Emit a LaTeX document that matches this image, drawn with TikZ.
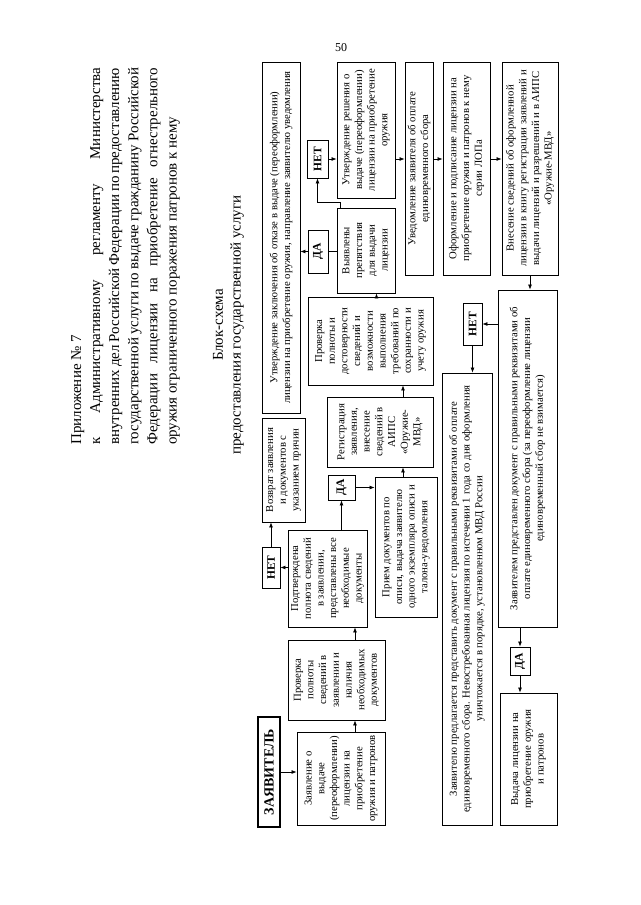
\documentclass[tikz,border=0pt]{standalone}
\usepackage{fontspec}
\setmainfont{Liberation Serif}
\usetikzlibrary{arrows.meta,calc}
\begin{document}
\begin{tikzpicture}[x=1pt,y=-1pt,
  box/.style={draw, line width=0.9pt, rotate=90, align=center, inner sep=1pt,
    font=\fontsize{10.7}{12.7}\selectfont},
  yn/.style={draw, line width=0.9pt, rotate=90, inner sep=1pt,
    font=\fontsize{11.5}{13}\selectfont\bfseries},
  zbox/.style={draw, line width=1.4pt, rotate=90, inner sep=1pt,
    font=\fontsize{14}{16}\selectfont\bfseries},
  arr/.style={line width=0.7pt, -{Latex[length=5pt,width=4pt]}},
  ln/.style={line width=0.7pt},
  ttl/.style={rotate=90, align=left, inner sep=0pt, font=\fontsize{15}{18.5}\selectfont},
  head/.style={rotate=90, inner sep=0pt, font=\fontsize{15}{18}\selectfont}
]
\useasboundingbox (0,0) rectangle (640,905);
\fill[white] (0,0) rectangle (640,905);

% page number
\node[font=\fontsize{12}{14}\selectfont, inner sep=0pt] (pnum) at (341,48) {50};

% title
\node[ttl, anchor=north west] (title) at (71,445) {%
Приложение № 7\\[0.6pt]
\makebox[377pt][s]{к Административному регламенту Министерства}\\[0.6pt]
\makebox[377pt][s]{внутренних дел Российской Федерации по предоставлению}\\[0.6pt]
\makebox[377pt][s]{государственной услуги по выдаче гражданину Российской}\\[0.6pt]
\makebox[377pt][s]{Федерации лицензии на приобретение огнестрельного}\\[0.6pt]
оружия ограниченного поражения патронов к нему};

\node[head] (h1) at (218,325) {Блок-схема};
\node[head] (h2) at (237,325) {предоставления государственной услуги};

% boxes
\node[zbox, minimum width=110pt, minimum height=22pt] (zv) at (269,772) {ЗАЯВИТЕЛЬ};
\node[box, minimum width=93pt, minimum height=88pt] (zayav) at (341,778.5)
  {Заявление о\\выдаче\\(переоформлении)\\лицензии на\\приобретение\\оружия и патронов};
\node[box, minimum width=80pt, minimum height=97pt] (prov1) at (336.5,680)
  {Проверка\\полноты\\сведений в\\заявлении и\\наличия\\необходимых\\документов};
\node[box, minimum width=97pt, minimum height=79pt] (podtv) at (327.5,578.5)
  {Подтверждена\\полнота сведений\\в заявлении,\\представлены все\\необходимые\\документы};
\node[yn, minimum width=41pt, minimum height=18pt] (net1) at (271,567.5) {НЕТ};
\node[box, minimum width=104pt, minimum height=43pt] (vozvr) at (283.5,470)
  {Возврат заявления\\и документов с\\указанием причин};
\node[yn, minimum width=25pt, minimum height=27pt] (da1) at (341.5,487.5) {ДА};
\node[box, minimum width=140pt, minimum height=62pt] (priem) at (406,547)
  {Прием документов по\\описи, выдача заявителю\\одного экземпляра описи и\\талона-уведомления};
\node[box, minimum width=70pt, minimum height=106pt] (regis) at (380,432)
  {Регистрация\\заявления,\\внесение\\сведений в\\АИПС\\«Оружие-\\МВД»};
\node[box, minimum width=88pt, minimum height=125pt] (prov2) at (370.5,341)
  {Проверка\\полноты и\\достоверности\\сведений и\\возможности\\выполнения\\требований по\\сохранности и\\учету оружия};
\node[box, minimum width=85pt, minimum height=58pt] (vyyav) at (366,250.5)
  {Выявлены\\препятствия\\для выдачи\\лицензии};
\node[yn, minimum width=43pt, minimum height=20pt] (da2) at (318,251.5) {ДА};
\node[box, minimum width=351pt, minimum height=38pt] (otk) at (281,237.5)
  {Утверждение заключения об отказе в выдаче (переоформлении)\\лицензии на приобретение оружия, направление заявителю уведомления};
\node[yn, minimum width=38pt, minimum height=21pt] (net2) at (317.5,159) {НЕТ};
\node[box, minimum width=136pt, minimum height=58pt] (resh) at (366,130)
  {Утверждение решения о\\выдаче (переоформлении)\\лицензии на приобретение\\оружия};
\node[box, minimum width=213pt, minimum height=28pt] (uved) at (419,168.5)
  {Уведомление заявителя об оплате\\единовременного сбора};
\node[box, minimum width=213pt, minimum height=47pt] (oform) at (466.5,168.5)
  {Оформление и подписание лицензии на\\приобретение оружия и патронов к нему\\серии ЛОПа};
\node[box, minimum width=213pt, minimum height=56pt] (vnes) at (530,168.5)
  {Внесение сведений об оформленной\\лицензии в книгу регистрации заявлений и\\выдачи лицензий и разрешений и в АИПС\\«Оружие-МВД»};
\node[box, minimum width=337pt, minimum height=59pt] (predst) at (527.5,458.5)
  {Заявителем представлен документ с правильными реквизитами об\\оплате единовременного сбора (за переоформление лицензии\\единовременный сбор не взимается)};
\node[yn, minimum width=42pt, minimum height=19pt] (net3) at (472.5,324) {НЕТ};
\node[box, minimum width=452pt, minimum height=50pt] (predl) at (467,599)
  {Заявителю предлагается представить документ с правильными реквизитами об оплате\\единовременного сбора. Невостребованная лицензия по истечении 1 года со дня оформления\\уничтожается в порядке, установленном МВД России};
\node[yn, minimum width=28pt, minimum height=20pt] (da3) at (520,661) {ДА};
\node[box, minimum width=132pt, minimum height=57pt] (vyd) at (528.5,759)
  {Выдача лицензии на\\приобретение оружия\\и патронов};

% connectors
\draw[arr] (zv.south) -- (zayav.north |- zv.south);
\draw[arr] ([xshift=14pt]zayav.east) -- ([xshift=14pt]zayav.east |- prov1.west);
\draw[arr] ([xshift=18.5pt]prov1.east) -- ([xshift=18.5pt]prov1.east |- podtv.west);
\draw[arr] (podtv.north |- net1.south) -- (net1.south);
\draw[arr] (net1.east) -- (net1.east |- vozvr.west);
\draw[arr] (da1.west |- podtv.east) -- (da1.west);
\draw[arr] (da1.south) -- (priem.north |- da1.south);
\draw[arr] ([xshift=-3pt]priem.east) -- ([xshift=-3pt]priem.east |- regis.west);
\draw[arr] ([xshift=-3pt]priem.east |- regis.east) -- ([xshift=-3pt]priem.east |- prov2.west);
\draw[arr] ([xshift=6pt]prov2.east) -- ([xshift=6pt]prov2.east |- vyyav.west);
\draw[ln] (vyyav.north |- da2.south) -- (da2.south);
\draw[arr] (da2.north) -- (otk.south |- da2.north);
\draw[arr] ([xshift=4pt]vyyav.north east) -- ++(0,-5) -| (net2.west);
\draw[arr] (net2.south) -- (resh.north |- net2.south);
\draw[arr] (resh.south |- net2.south) -- (uved.north |- net2.south);
\draw[arr] (uved.south |- net2.south) -- (oform.north |- net2.south);
\draw[arr] (oform.south |- net2.south) -- (vnes.north |- net2.south);
\draw[arr] (vnes.west) -- (vnes.west |- predst.east);
\draw[arr] (predst.north |- net3.south) -- (net3.south);
\draw[arr] (net3.west) -- (net3.west |- predl.east);
\draw[arr] (da3.east |- predst.west) -- (da3.east);
\draw[arr] (da3.west) -- (da3.west |- vyd.east);
\end{tikzpicture}
\end{document}
